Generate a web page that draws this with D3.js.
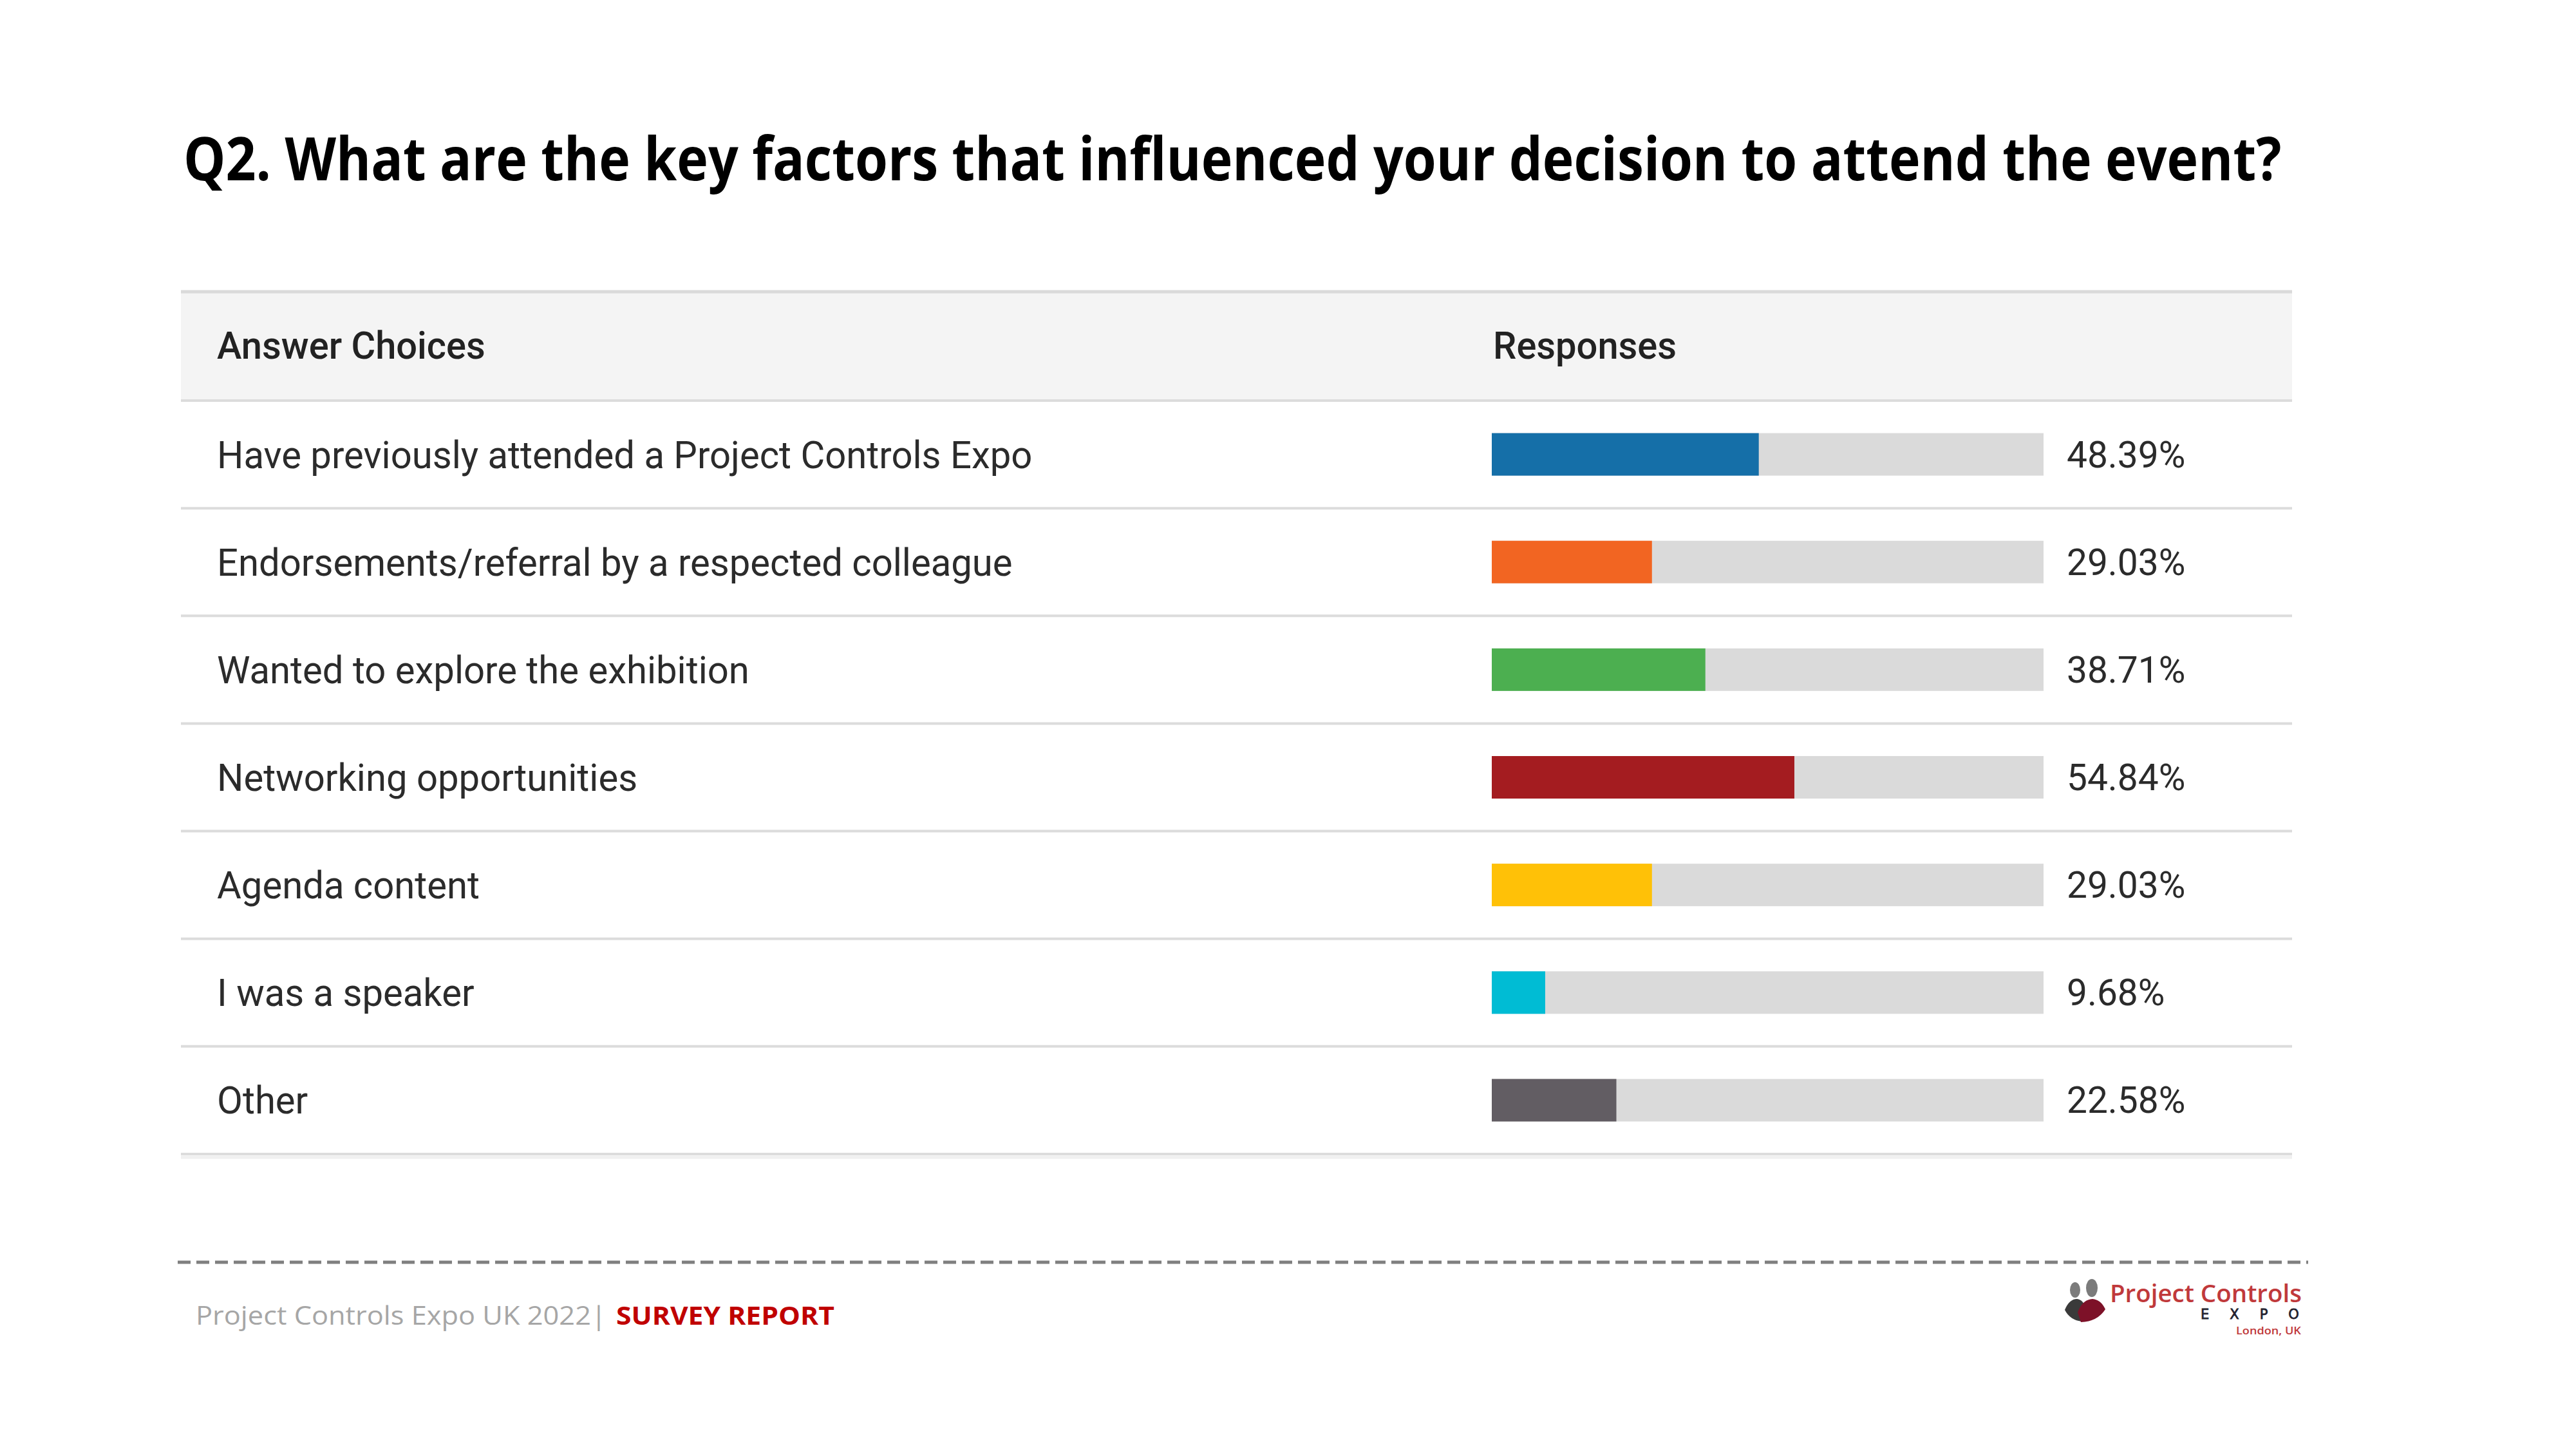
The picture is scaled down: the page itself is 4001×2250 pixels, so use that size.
<!DOCTYPE html>
<html lang="en">
	<head>
		<meta charset="UTF-8" />
		<title>Q2 Key factors</title>
		<script src="https://d3js.org/d3.v7.min.js"></script>
		<style>
			html, body { margin: 0; padding: 0; background: #fff; }
			svg { display: block; }
		</style>
	</head>
	<body>
		<svg id="chart"></svg>
		<script>
			const choices = [
				"Have previously attended a Project Controls Expo",
				"Endorsements/referral by a respected colleague",
				"Wanted to explore the exhibition",
				"Networking opportunities",
				"Agenda content",
				"I was a speaker",
				"Other"
			];
			const responses = [48.39, 29.03, 38.71, 54.84, 29.03, 9.68, 22.58];
			const barColors = ["#156fa8", "#f26522", "#4caf50", "#a41c20", "#ffc107", "#00bcd4", "#625d63"];

			const width = 4001, height = 2250;

			const svg = d3.select("#chart")
				.attr("width", width)
				.attr("height", height);

			svg.append("rect")
				.attr("width", width)
				.attr("height", height)
				.attr("fill", "#fff");

			// squeeze a text horizontally (around its x) so it spans `target` px
			function fitX(sel, target) {
				sel.each(function () {
					const t = d3.select(this);
					const x0 = +t.attr("x");
					const w = this.getComputedTextLength();
					const k = target / w;
					t.attr("transform", `translate(${x0},0) scale(${k},1) translate(${-x0},0)`);
				});
			}
			function squeezeX(sel, k) {
				sel.each(function () {
					const t = d3.select(this);
					const x0 = +t.attr("x");
					t.attr("transform", `translate(${x0},0) scale(${k},1) translate(${-x0},0)`);
				});
			}

			// title
			svg.append("text")
				.attr("x", 285)
				.attr("y", 280)
				.attr("font-family", "'Open Sans', sans-serif")
				.attr("font-weight", 700)
				.attr("font-size", 94)
				.attr("fill", "#000")
				.text("Q2. What are the key factors that influenced your decision to attend the event?")
				.call(fitX, 3259);

			// table geometry
			const tableLeft = 281, tableRight = 3560;
			const headTop = 453, headBottom = 622;

			const x = d3.scaleLinear().domain([0, 100]).range([2317, 3174]);
			const y = d3.scaleBand().domain(choices).range([headBottom, 1792]);

			// header
			svg.append("rect")
				.attr("x", tableLeft)
				.attr("y", headTop)
				.attr("width", tableRight - tableLeft)
				.attr("height", headBottom - headTop)
				.attr("fill", "#f4f4f4");
			svg.append("line")
				.attr("x1", tableLeft).attr("x2", tableRight)
				.attr("y1", headTop).attr("y2", headTop)
				.attr("stroke", "#dadada").attr("stroke-width", 5);

			svg.append("text")
				.attr("x", 337).attr("y", 557)
				.attr("font-family", "Roboto, sans-serif")
				.attr("font-size", 59)
				.attr("font-weight", 500)
				.attr("fill", "#222")
				.text("Answer Choices")
				.call(squeezeX, 0.98);
			svg.append("text")
				.attr("x", 2319).attr("y", 557)
				.attr("font-family", "Roboto, sans-serif")
				.attr("font-size", 59)
				.attr("font-weight", 500)
				.attr("fill", "#222")
				.text("Responses")
				.call(squeezeX, 0.98);

			// row separators
			svg.selectAll(".sep")
				.data([headBottom].concat(choices.map(d => y(d) + y.bandwidth())))
				.join("line")
				.attr("class", "sep")
				.attr("x1", tableLeft).attr("x2", tableRight)
				.attr("y1", d => d).attr("y2", d => d)
				.attr("stroke", "#dcdcdc")
				.attr("stroke-width", 4);

			// faint shadow under table
			svg.append("line")
				.attr("x1", tableLeft).attr("x2", tableRight)
				.attr("y1", 1797).attr("y2", 1797)
				.attr("stroke", "#f0f0f0").attr("stroke-width", 5);

			const rows = svg.selectAll(".row")
				.data(choices)
				.join("g")
				.attr("class", "row")
				.attr("transform", d => `translate(0,${y(d) + y.bandwidth() / 2})`);

			rows.append("text")
				.attr("x", 337)
				.attr("y", 21)
				.attr("font-family", "Roboto, sans-serif")
				.attr("font-size", 60)
				.attr("fill", "#2b2b2b")
				.text(d => d)
				.call(squeezeX, 0.967);

			const barH = 66;
			rows.append("rect")
				.attr("x", x(0))
				.attr("y", -barH / 2)
				.attr("width", x(100) - x(0))
				.attr("height", barH)
				.attr("fill", "#dadada");

			rows.append("rect")
				.attr("x", x(0))
				.attr("y", -barH / 2)
				.attr("width", (d, i) => x(responses[i]) - x(0))
				.attr("height", barH)
				.attr("fill", (d, i) => barColors[i]);

			rows.append("text")
				.attr("x", 3210)
				.attr("y", 20)
				.attr("font-family", "Roboto, sans-serif")
				.attr("font-size", 58)
				.attr("fill", "#2b2b2b")
				.text((d, i) => responses[i].toFixed(2) + "%")
				.call(squeezeX, 0.98);

			// footer
			svg.append("line")
				.attr("x1", 276).attr("x2", 3585)
				.attr("y1", 1960).attr("y2", 1960)
				.attr("stroke", "#7f7f7f")
				.attr("stroke-width", 5)
				.attr("stroke-dasharray", "20 9");

			svg.append("text")
				.attr("x", 304).attr("y", 2057)
				.attr("font-family", "'Open Sans', sans-serif")
				.attr("font-size", 40)
				.attr("fill", "#a6a6a6")
				.text("Project Controls Expo UK 2022|")
				.call(fitX, 638);
			svg.append("text")
				.attr("x", 957).attr("y", 2057)
				.attr("font-family", "'Open Sans', sans-serif")
				.attr("font-size", 40)
				.attr("font-weight", 700)
				.attr("fill", "#c00000")
				.text("SURVEY REPORT")
				.call(fitX, 339);

			// logo
			const logo = svg.append("g");
			logo.append("ellipse").attr("cx", 3223).attr("cy", 2003).attr("rx", 8).attr("ry", 12).attr("fill", "#7b7b7b");
			logo.append("ellipse").attr("cx", 3249).attr("cy", 2000).attr("rx", 9).attr("ry", 14).attr("fill", "#7b7b7b");
			logo.append("path")
				.attr("d", "M3207,2034 Q3214,2017 3226,2017 Q3236,2018 3241,2034 L3234,2052 Q3215,2050 3207,2034Z")
				.attr("fill", "#3a3a3a");
			logo.append("path")
				.attr("d", "M3227,2038 Q3234,2018 3250,2017 Q3263,2018 3270,2033 Q3258,2052 3232,2053Z")
				.attr("fill", "#7d1128");
			logo.append("text")
				.attr("x", 3277).attr("y", 2022)
				.attr("font-family", "'Open Sans', sans-serif")
				.attr("font-size", 38)
				.attr("font-weight", 600)
				.attr("fill", "#c0393b")
				.text("Project Controls")
				.call(fitX, 298);
			logo.append("text")
				.attr("x", 3418).attr("y", 2048)
				.attr("font-family", "'DejaVu Sans', sans-serif")
				.attr("font-size", 21)
				.attr("fill", "#231f2e")
				.attr("letter-spacing", 32)
				.attr("stroke", "#231f2e")
				.attr("stroke-width", 0.8)
				.text("EXPO");
			logo.append("text")
				.attr("x", 3473).attr("y", 2072)
				.attr("font-family", "'Open Sans', sans-serif")
				.attr("font-size", 17)
				.attr("font-weight", 600)
				.attr("fill", "#c0393b")
				.text("London, UK")
				.call(fitX, 101);
		</script>
	</body>
</html>
